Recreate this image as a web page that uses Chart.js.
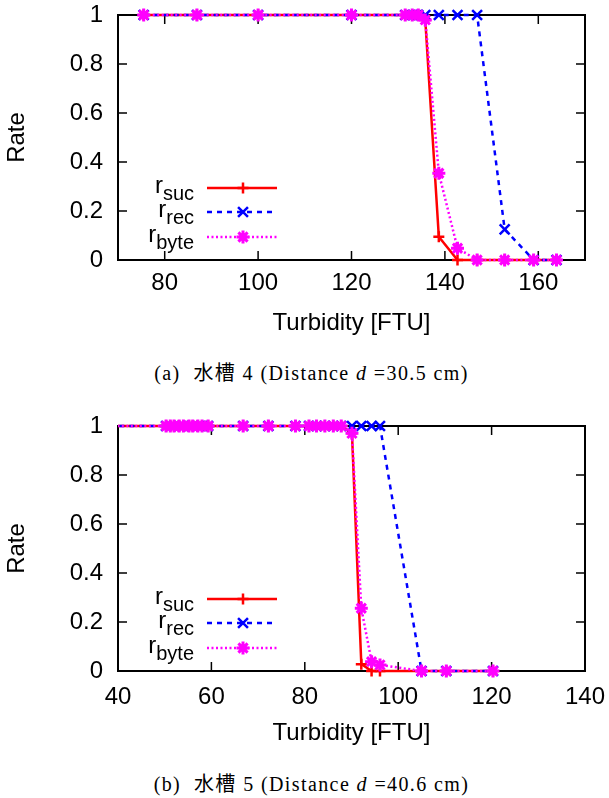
<!DOCTYPE html>
<html>
<head>
<meta charset="utf-8">
<script src="https://cdn.jsdelivr.net/npm/chart.js@4.4.1/dist/chart.umd.min.js"></script>
<style>
  body { margin: 0; background: #fff; width: 609px; height: 798px; position: relative; overflow: hidden; }
  .box { position: absolute; left: 0; width: 609px; height: 345px; }
  canvas { display: block; }
  .cap { position: absolute; left: 0; width: 623px; text-align: center; color: #000; letter-spacing: 1.4px;
         font-family: 'Liberation Serif', 'Noto Sans CJK JP', serif; font-size: 20px; line-height: 22px; }
</style>
</head>
<body>
<div class="box" style="top:0"><canvas id="tankA" width="609" height="345"></canvas></div>
<div class="cap" style="top:362px">(a)&nbsp; 水槽 4 (Distance <i>d</i> =30.5 cm)</div>
<div class="box" style="top:410px"><canvas id="tankB" width="609" height="345"></canvas></div>
<div class="cap" style="top:773px">(b)&nbsp; 水槽 5 (Distance <i>d</i> =40.6 cm)</div>
<script>
'use strict';

const yTicks = [0, 0.2, 0.4, 0.6, 0.8, 1];

// (a) tank 4
const xTicksA = [80, 100, 120, 140, 160];
const turbidityA = [75.5, 86.9, 100, 120, 131.5, 133, 134.3, 135.8, 138.7, 142.7, 146.9, 152.8, 159, 163.9];
const sucA = [1, 1, 1, 1, 1, 1, 1, 0.98, 0.095, 0, 0, 0, 0, 0];
const recA = [1, 1, 1, 1, 1, 1, 1, 1, 1, 1, 1, 0.125, 0, 0];
const byteA = [1, 1, 1, 1, 1, 1, 1, 0.98, 0.354, 0.048, 0, 0, 0, 0];

// (b) tank 5
const xTicksB = [40, 60, 80, 100, 120, 140];
const turbidityB = [36, 50.3, 51.2, 52, 53.1, 54, 55.2, 56, 57.1, 58, 59.3, 66.8, 72.2, 78, 80.9, 82.5, 84.3, 86.1, 87.8,
  90.1, 92.1, 94.3, 96.1, 105, 110.3, 120.3];
const sucB = [1, 1, 1, 1, 1, 1, 1, 1, 1, 1, 1, 1, 1, 1, 1, 1, 1, 1, 1, 0.97, 0.028, 0, 0, 0, 0, 0];
const recB = [1, 1, 1, 1, 1, 1, 1, 1, 1, 1, 1, 1, 1, 1, 1, 1, 1, 1, 1, 1, 1, 1, 1, 0, 0, 0];
const byteB = [1, 1, 1, 1, 1, 1, 1, 1, 1, 1, 1, 1, 1, 1, 1, 1, 1, 1, 1, 0.97, 0.256, 0.038, 0.025, 0, 0, 0];

const seriesNames = ['suc', 'rec', 'byte'];
const seriesColors = ['#ff0000', '#0000ff', '#ff00ff'];
const seriesDash = [[], [5, 5], [2, 2.5]];
const seriesPoints = ['cross', 'crossRot', 'star'];
const seriesRadius = [5.5, 7, 6.5];
const seriesPointWidth = [2.5, 2.5, 3];

const FONT = 'Liberation Sans';

// inward ticks on all four sides plus the black frame
const framePlugin = {
  id: 'frame',
  beforeDatasetsDraw(chart) {
    const { ctx, chartArea: a, scales: { x, y } } = chart;
    ctx.save();
    ctx.strokeStyle = '#000';
    ctx.lineWidth = 1.5;
    ctx.beginPath();
    x.ticks.forEach(t => {
      const px = x.getPixelForValue(t.value);
      ctx.moveTo(px, a.bottom);
      ctx.lineTo(px, a.bottom - 9);
      ctx.moveTo(px, a.top);
      ctx.lineTo(px, a.top + 9);
    });
    y.ticks.forEach(t => {
      const py = y.getPixelForValue(t.value);
      ctx.moveTo(a.left, py);
      ctx.lineTo(a.left + 9, py);
      ctx.moveTo(a.right, py);
      ctx.lineTo(a.right - 9, py);
    });
    ctx.stroke();
    ctx.lineWidth = 2;
    ctx.strokeRect(a.left, a.top, a.right - a.left, a.bottom - a.top);
    ctx.restore();
  },
};

// gnuplot style key: label on the left, line sample with marker on the right
const keyPlugin = {
  id: 'key',
  afterDatasetsDraw(chart) {
    const { ctx, chartArea: a } = chart;
    const rows = [72, 48, 23];
    chart.data.datasets.forEach((ds, i) => {
      const yy = a.bottom - rows[i];
      const tx = a.left + 76;
      ctx.save();
      ctx.fillStyle = '#000';
      ctx.textAlign = 'right';
      ctx.textBaseline = 'alphabetic';
      ctx.font = `20px "${FONT}"`;
      const w = ctx.measureText(ds.label).width;
      ctx.fillText(ds.label, tx, yy + 12);
      ctx.font = `24px "${FONT}"`;
      ctx.fillText('r', tx - w, yy + 5);

      ctx.strokeStyle = ds.borderColor;
      ctx.fillStyle = ds.borderColor;
      ctx.lineWidth = ds.borderWidth;
      ctx.setLineDash(ds.borderDash);
      ctx.beginPath();
      ctx.moveTo(a.left + 89, yy);
      ctx.lineTo(a.left + 159, yy);
      ctx.stroke();
      ctx.setLineDash([]);
      ctx.lineWidth = ds.pointBorderWidth;
      Chart.helpers.drawPoint(ctx, { pointStyle: ds.pointStyle, radius: ds.pointRadius, rotation: 0,
        borderWidth: ds.pointBorderWidth }, a.left + 125, yy);
      ctx.restore();
    });
  },
};

const makeChart = (canvasId, xs, series, xTicks, xMin, xMax, topPad, xHeight, tickPad) => {
  const datasets = series.map((values, i) => ({
    label: seriesNames[i],
    data: xs.map((x, j) => ({ x, y: values[j] })),
    borderColor: seriesColors[i],
    backgroundColor: seriesColors[i],
    borderWidth: 2.5,
    borderDash: seriesDash[i],
    pointStyle: seriesPoints[i],
    pointRadius: seriesRadius[i],
    pointBorderWidth: seriesPointWidth[i],
    pointBorderColor: seriesColors[i],
    pointBackgroundColor: seriesColors[i],
    tension: 0,
    fill: false,
    // later series are painted over earlier ones, as gnuplot does
    order: series.length - i,
    clip: { left: 0, top: false, right: false, bottom: false },
  }));

  new Chart(document.getElementById(canvasId), {
    type: 'line',
    data: { datasets },
    options: {
      responsive: false,
      animation: false,
      events: [],
      layout: { padding: { left: 0, top: topPad, right: 24, bottom: 0 } },
      plugins: { legend: { display: false }, tooltip: { enabled: false } },
      scales: {
        x: {
          type: 'linear',
          min: xMin,
          max: xMax,
          grid: { display: false, drawTicks: false },
          border: { display: false },
          ticks: { font: { family: FONT, size: 24 }, color: '#000', padding: tickPad, maxRotation: 0, autoSkip: false,
            callback: v => String(v) },
          afterBuildTicks: s => { s.ticks = xTicks.map(value => ({ value })); },
          afterFit: s => {
            s.height = xHeight;
            s.paddingLeft = 0;
            s.paddingRight = 0;
          },
          title: { display: true, text: 'Turbidity [FTU]', color: '#000', font: { family: FONT, size: 24 },
            padding: { top: 0, bottom: 7.5 } },
        },
        y: {
          type: 'linear',
          min: 0,
          max: 1,
          grid: { display: false, drawTicks: false },
          border: { display: false },
          ticks: { font: { family: FONT, size: 24 }, color: '#000', padding: 15, autoSkip: false,
            callback: v => String(v) },
          afterBuildTicks: s => { s.ticks = yTicks.map(value => ({ value })); },
          afterFit: s => {
            s.width = 118;
            s.paddingTop = 0;
            s.paddingBottom = 0;
          },
          title: { display: true, text: 'Rate', color: '#000', font: { family: FONT, size: 24 },
            padding: { top: 3, bottom: 0 } },
        },
      },
    },
    plugins: [framePlugin, keyPlugin],
  });
};

makeChart('tankA', turbidityA, [sucA, recA, byteA], xTicksA, 70, 170, 15, 85, 9);
makeChart('tankB', turbidityB, [sucB, recB, byteB], xTicksB, 40, 140, 16, 84, 12);
</script>
</body>
</html>
